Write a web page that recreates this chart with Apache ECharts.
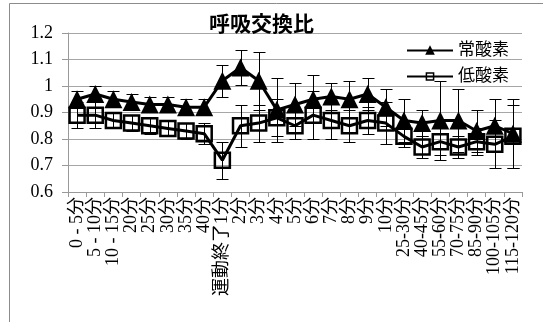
<!DOCTYPE html>
<html>
<head>
<meta charset="utf-8">
<script src="https://cdn.jsdelivr.net/npm/echarts@6/dist/echarts.min.js"></script>
<style>
  html, body { margin: 0; padding: 0; background: #fff; }
  #chart { width: 543px; height: 322px; }
</style>
</head>
<body>
<div id="chart"></div>
<script>
// Time points of the measurement
const categories = [
  '0 - 5分', '5 - 10分', '10 - 15分', '20分', '25分', '30分', '35分', '40分',
  '運動終了1分', '2分', '3分', '4分', '5分', '6分', '7分', '8分', '9分', '10分',
  '25-30分', '40-45分', '55-60分', '70-75分', '85-90分', '100-105分', '115-120分'
];

// Respiratory exchange ratio, normoxia (mean and SD)
const normoxia = [0.95, 0.97, 0.95, 0.94, 0.93, 0.93, 0.92, 0.92, 1.02, 1.07, 1.02, 0.91, 0.93,
  0.95, 0.96, 0.95, 0.97, 0.92, 0.87, 0.86, 0.87, 0.87, 0.83, 0.85, 0.82];
const normoxiaSD = [0.03, 0.03, 0.03, 0.03, 0.03, 0.03, 0.03, 0.03, 0.06, 0.065, 0.11, 0.12, 0.08,
  0.09, 0.05, 0.07, 0.06, 0.07, 0.08, 0.05, 0.15, 0.12, 0.08, 0.10, 0.13];

// Respiratory exchange ratio, hypoxia (mean and SD)
const hypoxia = [0.89, 0.89, 0.87, 0.86, 0.85, 0.84, 0.83, 0.82, 0.72, 0.85, 0.86, 0.88, 0.85,
  0.89, 0.87, 0.85, 0.87, 0.86, 0.81, 0.77, 0.79, 0.77, 0.79, 0.78, 0.81];
const hypoxiaSD = [0.05, 0.05, 0.03, 0.03, 0.03, 0.03, 0.03, 0.04, 0.07, 0.08, 0.07, 0.07, 0.05,
  0.09, 0.07, 0.06, 0.05, 0.08, 0.04, 0.04, 0.05, 0.04, 0.05, 0.09, 0.12];

const seriesNames = ['常酸素', '低酸素'];
const yMin = 0.6, yMax = 1.2, yStep = 0.1;

const serif = "'Liberation Serif', 'Noto Sans CJK JP', serif";

function errorData(means, sds) {
  return means.map((m, i) => [i, m - sds[i], m + sds[i]]);
}

// Vertical whisker with caps at mean ± SD
function errorBarItem(params, api) {
  const x = api.value(0);
  const lo = api.coord([x, api.value(1)]);
  const hi = api.coord([x, api.value(2)]);
  const half = 6;
  const cx = Math.round(lo[0]) + 0.5;
  const yl = Math.round(lo[1]) + 0.5;
  const yh = Math.round(hi[1]) + 0.5;
  const style = { stroke: '#000', lineWidth: 1 };
  return {
    type: 'group',
    children: [
      { type: 'line', shape: { x1: cx, y1: yh, x2: cx, y2: yl }, style },
      { type: 'line', shape: { x1: cx - half, y1: yh, x2: cx + half, y2: yh }, style },
      { type: 'line', shape: { x1: cx - half, y1: yl, x2: cx + half, y2: yl }, style }
    ]
  };
}

const chart = echarts.init(document.getElementById('chart'), null, { renderer: 'canvas' });

chart.setOption({
  animation: false,
  backgroundColor: '#fff',
  graphic: [{
    type: 'rect',
    shape: { x: 9.5, y: 3.5, width: 600, height: 400 },
    style: { fill: 'none', stroke: '#8c8c8c', lineWidth: 1 },
    z: 0
  }],
  title: {
    text: '呼吸交換比',
    left: 204,
    top: 10,
    textStyle: { fontFamily: serif, fontSize: 21, fontWeight: 'bold', color: '#000' }
  },
  legend: {
    data: seriesNames,
    orient: 'vertical',
    left: 401,
    top: 37,
    itemWidth: 46,
    itemHeight: 9,
    itemGap: 9,
    itemStyle: { borderWidth: 1.5 },
    textStyle: { fontFamily: serif, fontSize: 17, color: '#000' }
  },
  grid: { left: 68, right: 21, top: 33, bottom: 130 },
  xAxis: {
    type: 'category',
    data: categories,
    boundaryGap: true,
    axisLine: { lineStyle: { color: '#999', width: 1 } },
    axisTick: { show: true, length: 5, lineStyle: { color: '#999' } },
    axisLabel: {
      interval: 0,
      rotate: 90,
      margin: 5,
      fontFamily: serif,
      fontSize: 18,
      color: '#000'
    },
    splitLine: { show: false }
  },
  yAxis: {
    type: 'value',
    min: yMin,
    max: yMax,
    interval: yStep,
    axisLine: { show: true, lineStyle: { color: '#999', width: 1 } },
    axisTick: { show: true, inside: false, length: 6, lineStyle: { color: '#999' } },
    axisLabel: {
      margin: 15,
      fontFamily: serif,
      fontSize: 18,
      color: '#000',
      formatter: v => String(+v.toFixed(1))
    },
    splitLine: { show: true, lineStyle: { color: '#a6a6a6', width: 1 } }
  },
  series: [
    {
      name: seriesNames[1],
      type: 'line',
      data: hypoxia,
      symbol: 'rect',
      symbolSize: 15,
      showAllSymbol: true,
      lineStyle: { color: '#000', width: 3 },
      itemStyle: { color: 'rgba(255,255,255,0)', borderColor: '#000', borderWidth: 2.5 },
      z: 3
    },
    {
      name: seriesNames[0],
      type: 'line',
      data: normoxia,
      symbol: 'triangle',
      symbolSize: 18,
      showAllSymbol: true,
      lineStyle: { color: '#000', width: 3 },
      itemStyle: { color: '#000', borderColor: '#000', borderWidth: 0 },
      z: 4
    },
    {
      name: seriesNames[1] + '誤差',
      type: 'custom',
      renderItem: errorBarItem,
      data: errorData(hypoxia, hypoxiaSD),
      encode: { x: 0, y: [1, 2] },
      z: 5,
      silent: true
    },
    {
      name: seriesNames[0] + '誤差',
      type: 'custom',
      renderItem: errorBarItem,
      data: errorData(normoxia, normoxiaSD),
      encode: { x: 0, y: [1, 2] },
      z: 5,
      silent: true
    }
  ]
});
</script>
</body>
</html>
